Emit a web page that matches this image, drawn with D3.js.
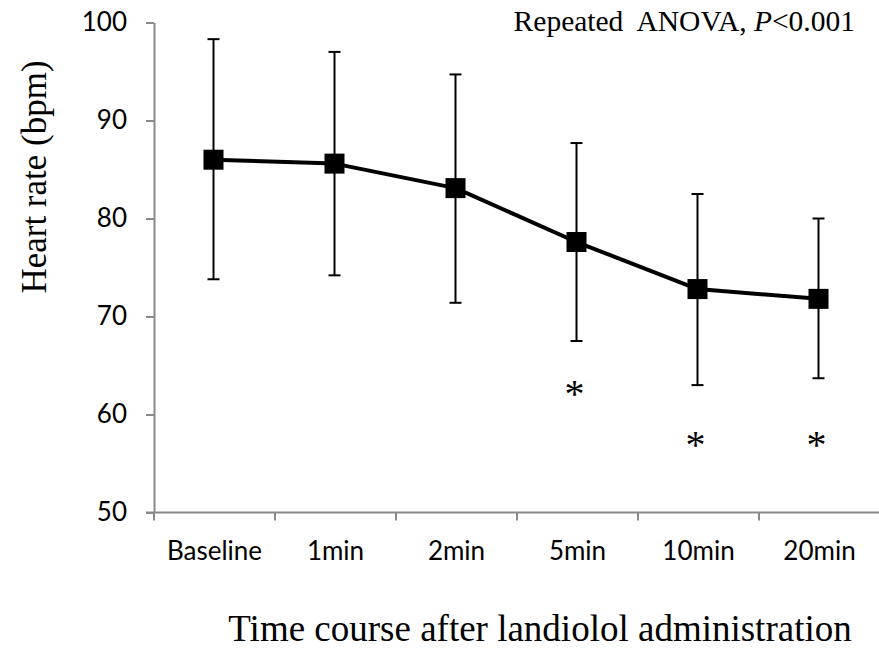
<!DOCTYPE html>
<html>
<head>
<meta charset="utf-8">
<script src="https://cdn.jsdelivr.net/npm/d3@7"></script>
<style>
  html, body { margin: 0; padding: 0; background: #fff; }
  svg { display: block; }
</style>
</head>
<body>
<svg id="chart" width="879" height="653"></svg>
<script>
// ---- data ----
const categories = ["Baseline", "1min", "2min", "5min", "10min", "20min"];
const meanHR  = [86.0, 85.6, 83.1, 77.6, 72.8, 71.8];
const upperHR = [98.3, 97.0, 94.7, 87.7, 82.5, 80.0];
const lowerHR = [73.8, 74.2, 71.4, 67.5, 63.0, 63.7];
const yTicks = [50, 60, 70, 80, 90, 100];
const asteriskCats = ["5min", "10min", "20min"];
const asteriskVals = [62.7, 57.5, 57.5];

const yLabel = "Heart rate (bpm)";
const xLabel = "Time course after landiolol administration";

// ---- layout ----
(function () {
const svg = d3.select("#chart");
const mLeft = 154, mRight = 880, mTop = 22.5, mBottom = 512.5;
const axisColor = "#898989";
const serif = "'Liberation Serif', 'Times New Roman', serif";
const sans = "Lato, 'Open Sans', sans-serif";

const x = d3.scaleBand().domain(categories).range([mLeft, mRight]).padding(0);
const y = d3.scaleLinear().domain([50, 100]).range([mBottom, mTop]);
const cx = c => x(c) + x.bandwidth() / 2;

// y axis
const yAxis = svg.append("g")
  .attr("transform", `translate(${mLeft},0)`)
  .call(d3.axisLeft(y).tickValues(yTicks).tickSize(8).tickSizeOuter(0).tickPadding(19));
yAxis.select(".domain").attr("stroke", axisColor).attr("stroke-width", 2);
yAxis.selectAll(".tick line").attr("stroke", axisColor).attr("stroke-width", 2);
yAxis.selectAll(".tick text")
  .attr("font-family", sans).attr("font-size", 26).attr("fill", "#000");

// x axis: labels at band centers, ticks at band boundaries
const xAxis = svg.append("g")
  .attr("transform", `translate(0,${mBottom})`)
  .call(d3.axisBottom(x).tickSize(0).tickSizeOuter(0).tickPadding(0));
xAxis.select(".domain").remove();
xAxis.selectAll(".tick text")
  .attr("font-family", sans).attr("font-size", 26).attr("fill", "#000")
  .attr("dy", null).attr("y", 47);

xAxis.append("line")
  .attr("x1", mLeft - 8).attr("x2", mRight).attr("y1", 0).attr("y2", 0)
  .attr("stroke", axisColor).attr("stroke-width", 2);
xAxis.selectAll(".bt")
  .data(categories)
  .join("line")
  .attr("class", "bt")
  .attr("x1", d => x(d)).attr("x2", d => x(d))
  .attr("y1", 0).attr("y2", 8)
  .attr("stroke", axisColor).attr("stroke-width", 2);

// error bars
const eb = svg.append("g");
categories.forEach((c, i) => {
  const px = cx(c) - 1;
  eb.append("line").attr("x1", px).attr("x2", px)
    .attr("y1", y(upperHR[i])).attr("y2", y(lowerHR[i]))
    .attr("stroke", "#000").attr("stroke-width", 2);
  [upperHR[i], lowerHR[i]].forEach(v => {
    eb.append("line").attr("x1", px - 6).attr("x2", px + 6)
      .attr("y1", y(v)).attr("y2", y(v))
      .attr("stroke", "#000").attr("stroke-width", 2);
  });
});

// line
const pts = categories.map((c, i) => [cx(c) - 1, y(meanHR[i])]);
svg.append("path")
  .attr("d", d3.line()(pts))
  .attr("fill", "none").attr("stroke", "#000").attr("stroke-width", 4)
  .attr("stroke-linejoin", "round");

// markers
svg.append("g").selectAll("rect")
  .data(pts)
  .join("rect")
  .attr("x", d => d[0] - 10).attr("y", d => d[1] - 10)
  .attr("width", 20).attr("height", 20)
  .attr("fill", "#000");

// asterisks
svg.append("g").selectAll("text")
  .data(asteriskCats)
  .join("text")
  .attr("x", d => cx(d) - 3)
  .attr("y", (d, i) => y(asteriskVals[i]))
  .attr("dy", "0.47em")
  .attr("text-anchor", "middle")
  .attr("font-family", serif).attr("font-size", 40)
  .text("*");

// annotation
const ann = svg.append("text")
  .attr("x", 855).attr("y", 31)
  .attr("text-anchor", "end")
  .attr("font-family", serif).attr("font-size", 29.5)
  .attr("xml:space", "preserve")
  .style("white-space", "pre");
ann.append("tspan").text("Repeated  ANOVA, ");
ann.append("tspan").attr("font-style", "italic").text("P");
ann.append("tspan").text("<0.001");

// axis titles
svg.append("text")
  .attr("transform", `translate(46,177) rotate(-90)`)
  .attr("text-anchor", "middle")
  .attr("font-family", serif).attr("font-size", 35)
  .text(yLabel);

svg.append("text")
  .attr("x", 540).attr("y", 641)
  .attr("text-anchor", "middle")
  .attr("font-family", serif).attr("font-size", 37)
  .text(xLabel);
})();
</script>
</body>
</html>
